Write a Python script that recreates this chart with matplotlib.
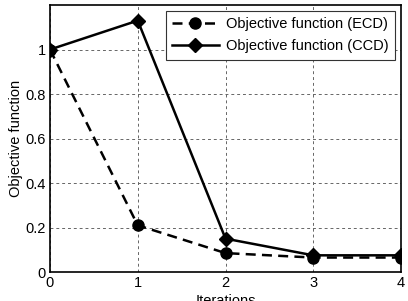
import matplotlib
matplotlib.use("Agg")
import matplotlib.pyplot as plt

plt.rcParams["font.family"] = ["Liberation Sans", "DejaVu Sans"]

iterations = [0, 1, 2, 3, 4]
obj_ecd = [1.0, 0.21, 0.085, 0.065, 0.065]
obj_ccd = [1.0, 1.13, 0.15, 0.075, 0.075]


def main():
    fig = plt.figure(figsize=(4.08, 3.01), dpi=100)
    ax = fig.add_axes([0.1225, 0.0963, 0.8605, 0.887])

    ax.plot(iterations, obj_ecd, "k--", marker="o", markersize=8, linewidth=1.8,
            dashes=(4, 2.5), label="Objective function (ECD)")
    ax.plot(iterations, obj_ccd, "k-", marker="D", markersize=7, linewidth=1.8,
            label="Objective function (CCD)")

    ax.set_xlim(0, 4)
    ax.set_ylim(0, 1.2)
    ax.set_xticks([0, 1, 2, 3, 4])
    ax.set_yticks([0, 0.2, 0.4, 0.6, 0.8, 1.0])
    ax.set_yticklabels(["0", "0.2", "0.4", "0.6", "0.8", "1"])
    ax.tick_params(labelsize=10.5, direction="in", length=0, pad=3)
    ax.grid(True, color="#666666", linestyle=(0, (3, 3)), linewidth=0.7)

    ax.set_xlabel("Iterations", fontsize=10.5, labelpad=3)
    ax.set_ylabel("Objective function", fontsize=10.5, labelpad=2)

    for sp in ax.spines.values():
        sp.set_linewidth(1.2)

    leg = ax.legend(loc="upper right", fontsize=10.5, fancybox=False,
                    framealpha=1, edgecolor="#333333", borderpad=0.45,
                    labelspacing=0.55, handlelength=3.2, handletextpad=0.5,
                    borderaxespad=0.4)
    leg.get_frame().set_linewidth(0.8)

    fig.savefig("out.png", dpi=100)
    plt.close(fig)


if __name__ == "__main__":
    main()
